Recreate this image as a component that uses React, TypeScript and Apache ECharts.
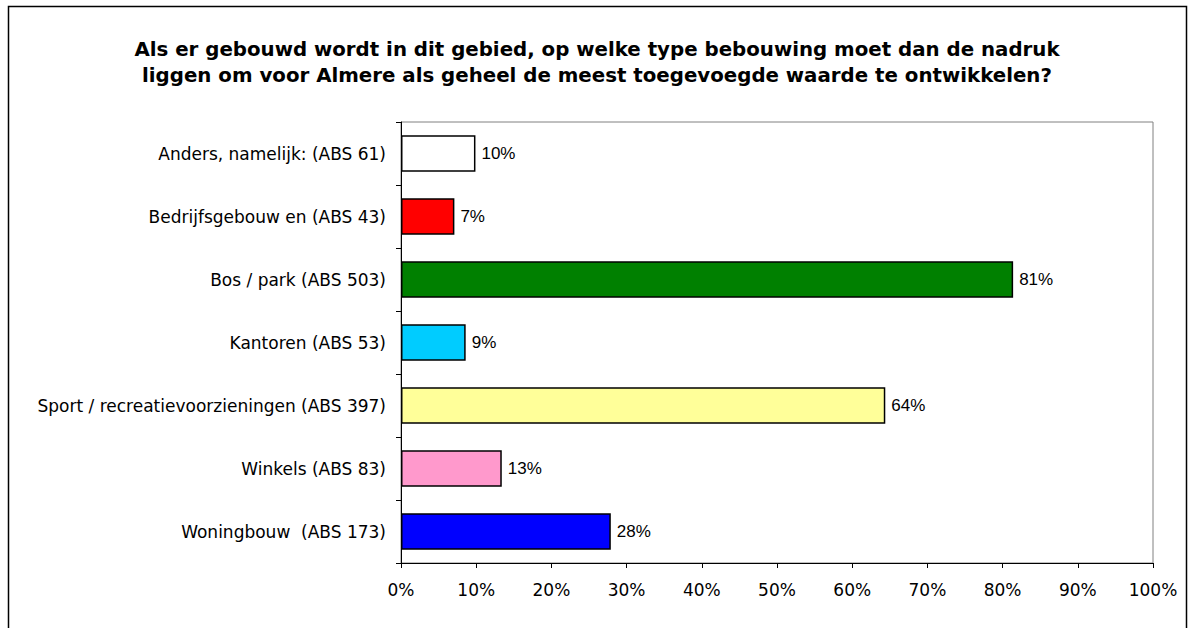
import React, { useEffect, useRef } from "react";
import * as echarts from "echarts";

const titleLines = [
  "Als er gebouwd wordt in dit gebied, op welke type bebouwing moet dan de nadruk",
  "liggen om voor Almere als geheel de meest toegevoegde waarde te ontwikkelen?",
];
const categories = [
  "Anders, namelijk: (ABS 61)",
  "Bedrijfsgebouw en (ABS 43)",
  "Bos / park (ABS 503)",
  "Kantoren (ABS 53)",
  "Sport / recreatievoorzieningen (ABS 397)",
  "Winkels (ABS 83)",
  "Woningbouw  (ABS 173)",
];
const values = [9.9, 7.1, 81.4, 8.6, 64.4, 13.4, 27.9];
const barColors = ["#FFFFFF", "#FF0000", "#008000", "#00CCFF", "#FFFF99", "#FF99CC", "#0000FF"];

export default function App() {
  const ref = useRef<HTMLDivElement>(null);
  useEffect(() => {
    if (!ref.current) return;
    const chart = echarts.init(ref.current, undefined, { renderer: "svg" });
    const font = "'DejaVu Sans', Verdana, sans-serif";
    const narrow = "'Liberation Sans Narrow', 'Arial Narrow', 'Liberation Sans', sans-serif";
    chart.setOption({
      animation: false,
      backgroundColor: "#FFFFFF",
      textStyle: { fontFamily: font },
      title: {
        text: titleLines.join("\n"),
        left: "center",
        top: 31,
        textStyle: { fontSize: 19.8, fontWeight: "bold", color: "#000", lineHeight: 26, fontFamily: font },
      },
      graphic: [
        {
          type: "rect",
          shape: { x: 8.5, y: 6.5, width: 1178, height: 640 },
          style: { fill: "none", stroke: "#000", lineWidth: 1.5 },
          silent: true,
          z: -1,
        },
      ],
      grid: {
        left: 401,
        right: 41,
        top: 122,
        bottom: 65,
        show: true,
        borderColor: "#808080",
        borderWidth: 1,
        backgroundColor: "transparent",
      },
      xAxis: {
        type: "value",
        min: 0,
        max: 100,
        interval: 10,
        axisLine: { show: true, lineStyle: { color: "#000", width: 1 } },
        axisTick: { show: true, length: 5, lineStyle: { color: "#000" } },
        splitLine: { show: false },
        axisLabel: { formatter: "{value}%", fontSize: 17, color: "#000", margin: 18, fontFamily: font },
      },
      yAxis: {
        type: "category",
        data: categories,
        inverse: true,
        axisLine: { show: true, lineStyle: { color: "#000", width: 1 } },
        axisTick: { show: true, length: 5, lineStyle: { color: "#000" } },
        axisLabel: { fontSize: 17, color: "#000", margin: 15, fontFamily: font },
        splitLine: { show: false },
      },
      series: [
        {
          type: "bar",
          barCategoryGap: "42%",
          data: values.map((v, i) => ({
            value: v,
            itemStyle: { color: barColors[i], borderColor: "#000", borderWidth: 1.5 },
          })),
          label: {
            show: true,
            position: "right",
            distance: 6,
            fontSize: 17,
            color: "#000",
            fontFamily: narrow,
            formatter: (p: any) => `${Math.round(p.value)}%`,
          },
        },
      ],
    });
    return () => chart.dispose();
  }, []);
  return (
    <div
      ref={ref}
      style={{ position: "absolute", left: 0, top: 0, width: 1194, height: 628 }}
    />
  );
}
